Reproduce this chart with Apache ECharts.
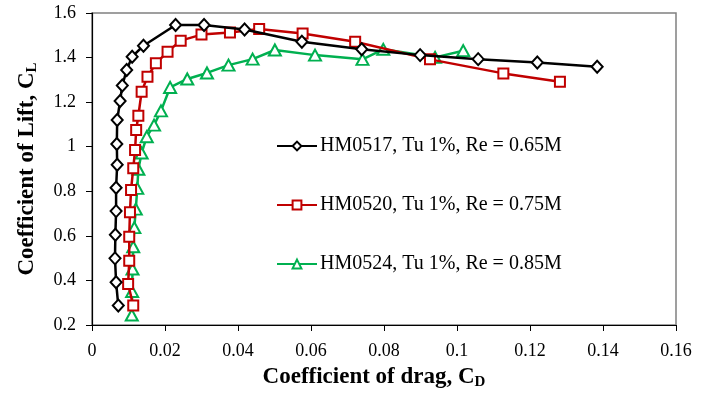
<!DOCTYPE html>
<html>
<head>
<meta charset="utf-8">
<script src="https://cdn.jsdelivr.net/npm/echarts@6/dist/echarts.min.js"></script>
<style>
  html, body { margin: 0; padding: 0; background: #fff; }
  #chart { width: 708px; height: 397px; }
</style>
</head>
<body>
<div id="chart"></div>
<script>
// drag / lift polars
var seriesNames = [
  'HM0517, Tu 1%, Re = 0.65M',
  'HM0520, Tu 1%, Re = 0.75M',
  'HM0524, Tu 1%, Re = 0.85M'
]

var cd0517 = [0.0072, 0.0066, 0.0063, 0.0064, 0.0066, 0.0066, 0.0069, 0.0068, 0.0069, 0.0077, 0.0083, 0.0095,
  0.0110, 0.0141, 0.0229, 0.0307, 0.0418, 0.0575, 0.0739, 0.0899, 0.1058, 0.1220, 0.1384]
var cl0517 = [0.287, 0.392, 0.499, 0.605, 0.711, 0.816, 0.919, 1.012, 1.120, 1.205, 1.275, 1.344,
  1.404, 1.453, 1.546, 1.546, 1.526, 1.471, 1.437, 1.411, 1.393, 1.378, 1.359]

var cd0520 = [0.0113, 0.0099, 0.0102, 0.0102, 0.0104, 0.0107, 0.0113, 0.0118, 0.0121, 0.0127, 0.0136, 0.0152,
  0.0175, 0.0207, 0.0243, 0.0300, 0.0378, 0.0458, 0.0577, 0.0721, 0.0926, 0.1127, 0.1282]
var cl0520 = [0.287, 0.384, 0.488, 0.596, 0.706, 0.806, 0.903, 0.985, 1.075, 1.139, 1.247, 1.314,
  1.374, 1.426, 1.476, 1.503, 1.513, 1.528, 1.508, 1.471, 1.392, 1.329, 1.292]

var cd0524 = [0.0109, 0.0110, 0.0111, 0.0113, 0.0116, 0.0120, 0.0124, 0.0127, 0.0136, 0.0150, 0.0170, 0.0189,
  0.0214, 0.0261, 0.0315, 0.0374, 0.0440, 0.0501, 0.0611, 0.0741, 0.0798, 0.0940, 0.1017]
var cl0524 = [0.245, 0.350, 0.451, 0.551, 0.637, 0.720, 0.813, 0.899, 0.972, 1.045, 1.097, 1.161,
  1.266, 1.304, 1.331, 1.366, 1.393, 1.434, 1.411, 1.392, 1.437, 1.401, 1.431]

var xTicks = { min: 0, max: 0.16, interval: 0.02 }
var yTicks = { min: 0.2, max: 1.6, interval: 0.2 }

function pairs(xs, ys) {
  return xs.map(function (x, i) { return [x, ys[i]] })
}

var font = 'Liberation Serif'
var colors = ['#000000', '#c00000', '#00b050']
var symbols = ['diamond', 'rect', 'triangle']
var symbolSizes = [[11, 12], 10, [12, 11]]
var dataSets = [pairs(cd0517, cl0517), pairs(cd0520, cl0520), pairs(cd0524, cl0524)]

var chart = echarts.init(document.getElementById('chart'), null, { renderer: 'canvas' })

var axisCommon = {
  type: 'value',
  nameLocation: 'middle',
  axisLine: { show: true, onZero: false, lineStyle: { color: '#000', width: 1.2 } },
  axisTick: { show: true, inside: false, length: 6, lineStyle: { color: '#000' } },
  splitLine: { show: false },
  axisLabel: { color: '#000', fontFamily: font, fontSize: 18 }
}

var titleRich = {
  a: { fontFamily: font, fontSize: 23, fontWeight: 'bold', color: '#000' },
  s: { fontFamily: font, fontSize: 15, fontWeight: 'bold', color: '#000', padding: [10, 0, 0, 0] }
}

chart.setOption({
  animation: false,
  backgroundColor: '#fff',
  textStyle: { fontFamily: font },
  grid: {
    left: 92,
    right: 32,
    top: 13,
    bottom: 72,
    show: true,
    borderColor: '#808080',
    borderWidth: 1.5
  },
  legend: {
    data: seriesNames,
    orient: 'vertical',
    left: 271,
    top: 131,
    itemWidth: 40,
    itemHeight: 11,
    itemGap: 39,
    textStyle: { fontFamily: font, fontSize: 20, color: '#000', lineHeight: 20, padding: [0, 0, 0, -2] }
  },
  xAxis: Object.assign({}, axisCommon, {
    min: xTicks.min,
    max: xTicks.max,
    interval: xTicks.interval,
    name: '{a|Coefficient of drag, C}{s|D}',
    nameGap: 40,
    nameTextStyle: { rich: titleRich, padding: [0, 20, 0, 0] },
    axisLabel: Object.assign({}, axisCommon.axisLabel, { margin: 17 })
  }),
  yAxis: Object.assign({}, axisCommon, {
    min: yTicks.min,
    max: yTicks.max,
    interval: yTicks.interval,
    name: '{a|Coefficient of Lift, C}{s|L}',
    nameGap: 52,
    nameTextStyle: { rich: titleRich },
    axisLabel: Object.assign({}, axisCommon.axisLabel, { margin: 16 })
  }),
  series: seriesNames.map(function (name, i) {
    return {
      name: name,
      type: 'line',
      data: dataSets[i],
      symbol: symbols[i],
      symbolSize: symbolSizes[i],
      showAllSymbol: true,
      lineStyle: { color: colors[i], width: 2.5 },
      itemStyle: { color: '#fff', borderColor: colors[i], borderWidth: 2 },
      z: 3 - i
    }
  })
})
</script>
</body>
</html>
